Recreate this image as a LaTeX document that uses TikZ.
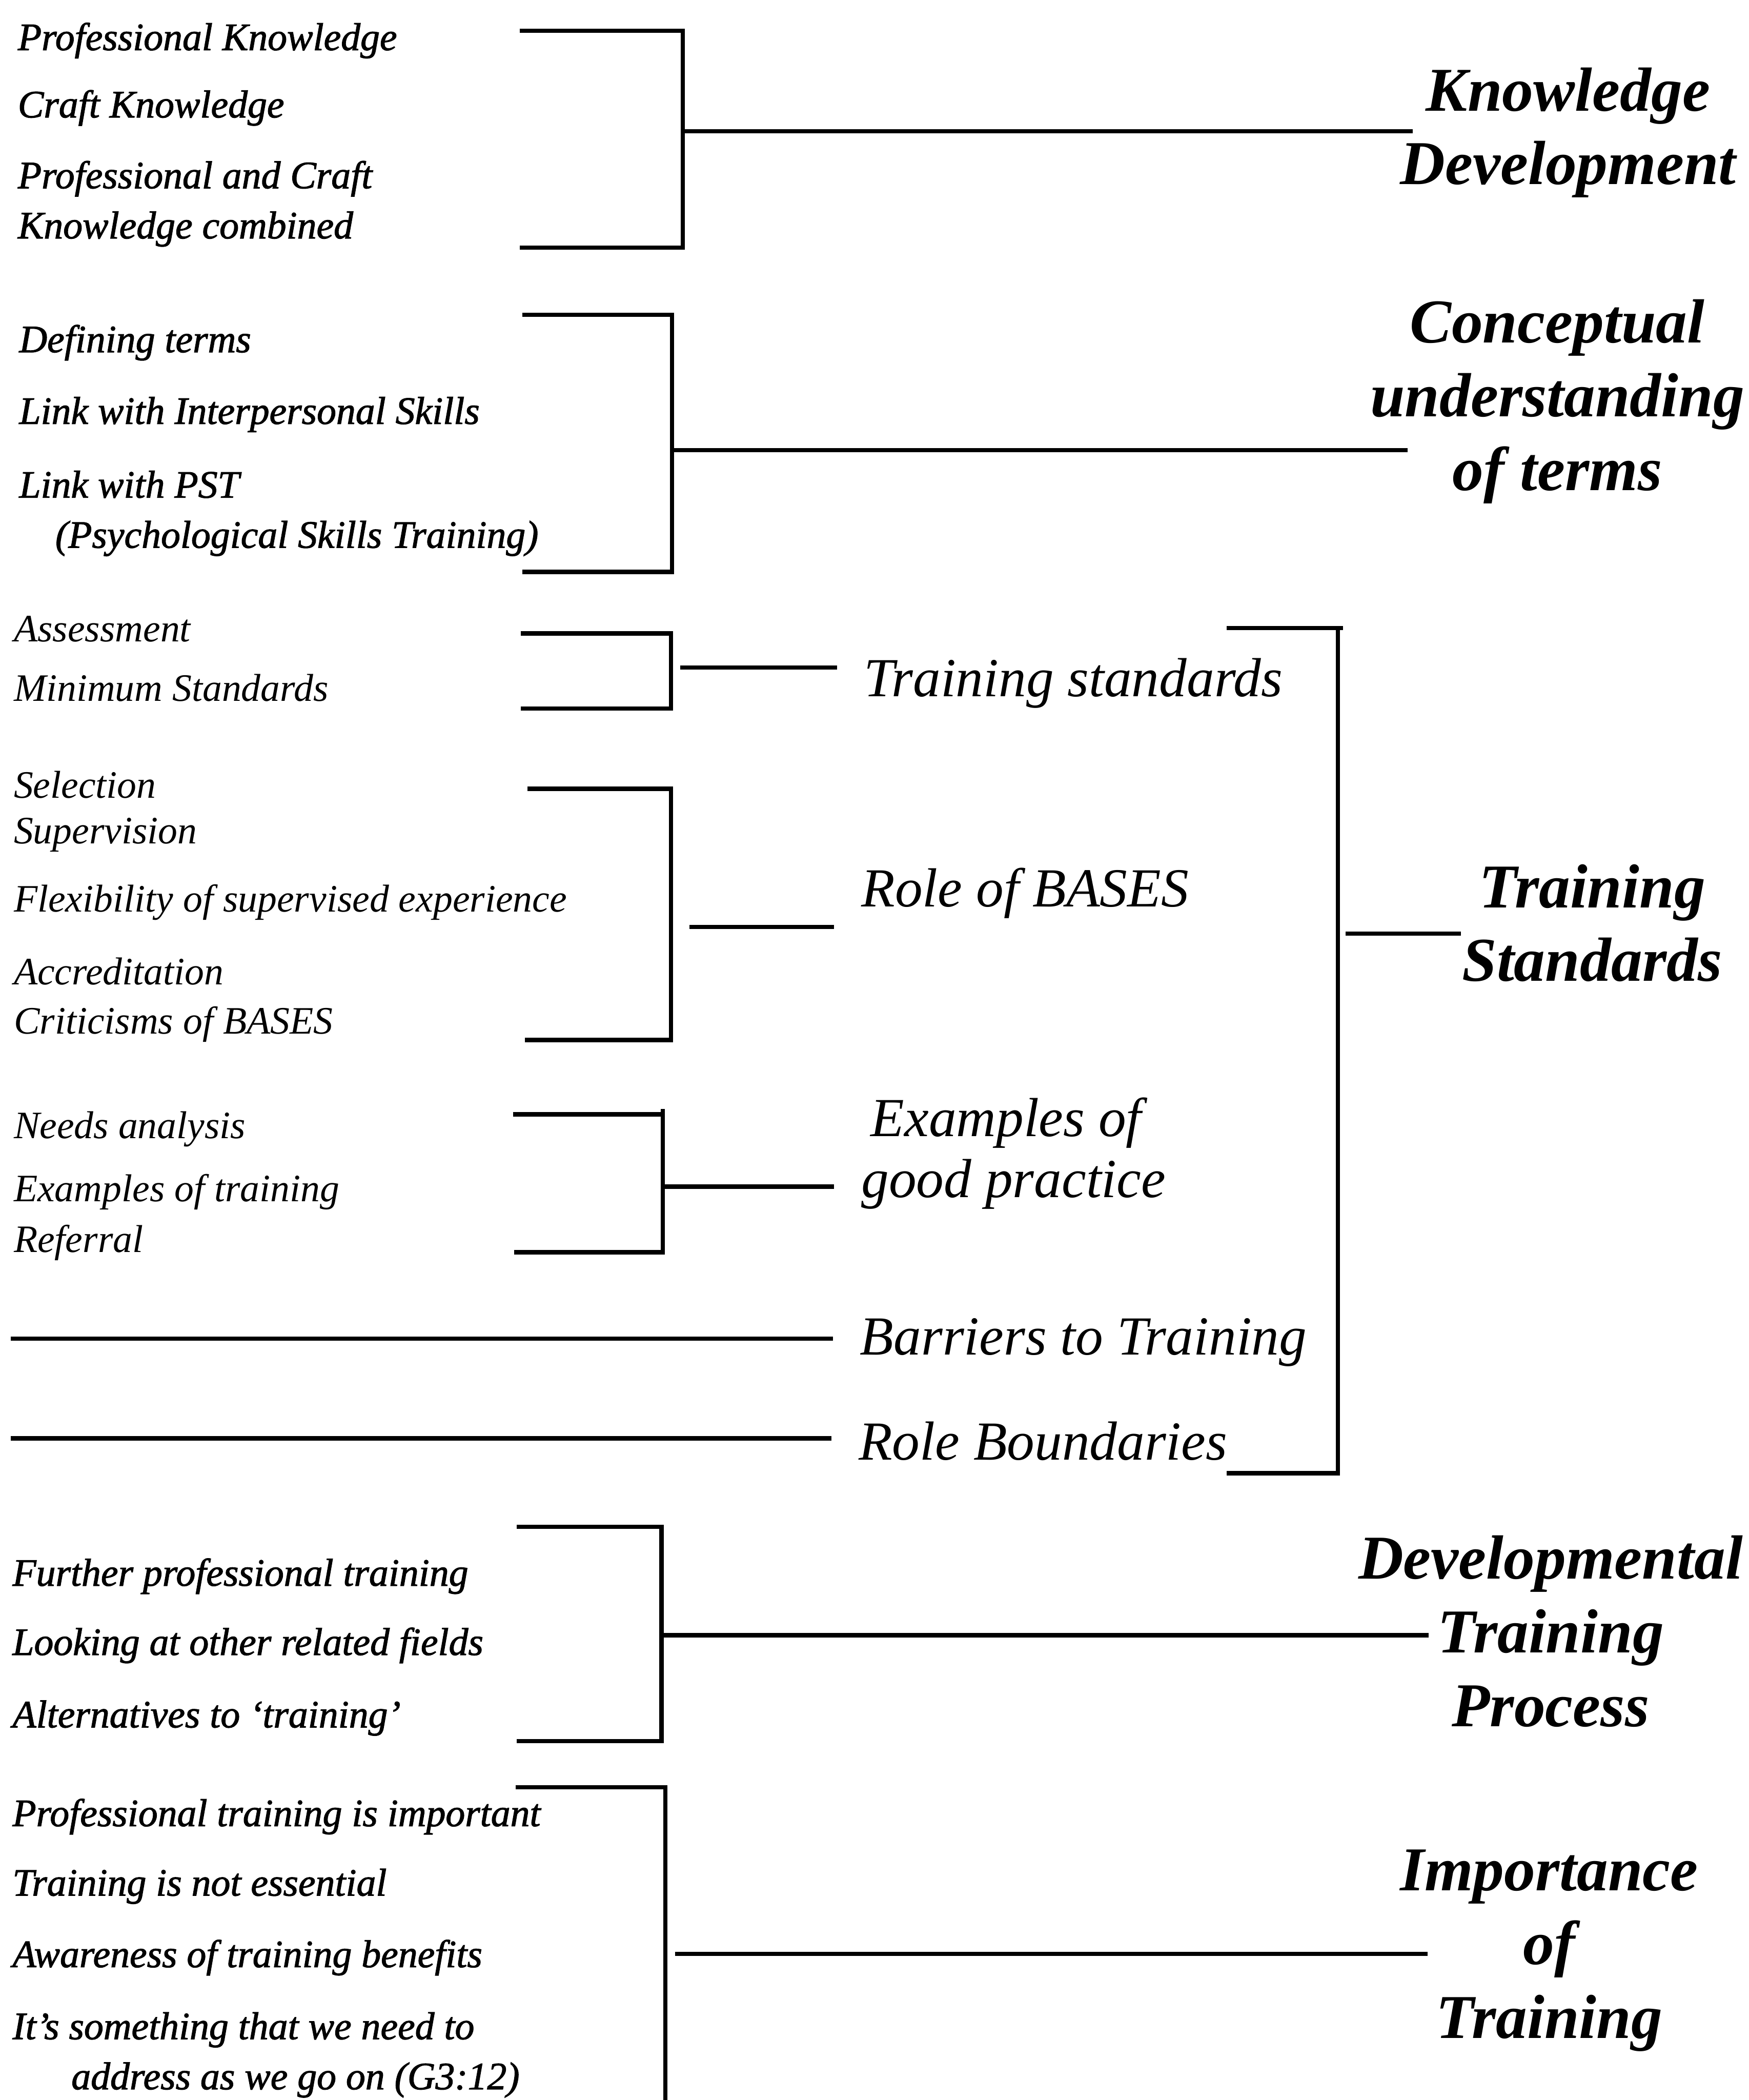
\documentclass[tikz,border=0pt]{standalone}
\usepackage{fontspec}
\setmainfont{Liberation Serif}
\newfontfamily\heavyfam[Ligatures=TeX, ItalicFeatures={FakeBold=1.5}]{Liberation Serif}
\newcommand\itemfnt{\heavyfam\fontsize{16.5}{21.3}\selectfont\itshape}
\newcommand\itemlfnt{\fontsize{16.5}{21.3}\selectfont\itshape}
\newcommand\subfnt{\fontsize{23.4}{25.9}\selectfont\itshape}
\newcommand\headfnt{\fontsize{26.5}{31.3}\selectfont\bfseries\itshape}
\tikzset{
  item/.style={anchor=base west, inner sep=0pt, align=left, font=\itemfnt},
  iteml/.style={item, font=\itemlfnt},
  sub/.style={anchor=base west, inner sep=0pt, inner xsep=0.4cm, align=left, font=\subfnt},
  head/.style={anchor=base, inner sep=0pt, align=center, font=\headfnt},
  brk/.style={line width=1.8pt},
  link/.style={line width=1.8pt}
}
\begin{document}
\begin{tikzpicture}[x=0.02cm, y=-0.02cm]
  \useasboundingbox (0,0) rectangle (1306,1568);

  % knowledge development
  \node[item] (kd1) at (13,37.4) {Professional Knowledge};
  \node[item] (kd2) at (13,87.7) {Craft Knowledge};
  \node[item] (kd3) at (13,178) {Professional and Craft\\Knowledge combined};
  \draw[brk] (388,23) -- (510,23) -- (510,185) -- (388,185);
  \coordinate (kdj) at (510,98);
  \coordinate (kde) at (1055,98);
  \node[head] (kdev) at (1171,137.7) {Knowledge\\Development};
  \draw[link] (kdj) -- (kde);

  % conceptual understanding
  \node[item] (ct1) at (14,263) {Defining terms};
  \node[item] (ct2) at (14,316.5) {Link with Interpersonal Skills};
  \node[item] (ct3) at (14,409) {Link with PST\\\hspace*{0.54cm}(Psychological Skills Training)};
  \draw[brk] (390,235) -- (502,235) -- (502,427) -- (390,427);
  \coordinate (ctj) at (502,336);
  \coordinate (cte) at (1051,336);
  \node[head] (ctrm) at (1163,366) {Conceptual\\understanding\\of terms};
  \draw[link] (ctj) -- (cte);

  % training standards
  \node[iteml] (ts1) at (10,479) {Assessment};
  \node[iteml] (ts2) at (10,523.6) {Minimum Standards};
  \draw[brk] (389,473) -- (501,473) -- (501,529) -- (389,529);
  \coordinate (tsj) at (508,498.5);
  \node[sub] (trst) at (625,520) {Training standards};
  \draw[link] (tsj) -- (tsj -| trst.west);

  \node[iteml] (rb1) at (10,596) {Selection};
  \node[iteml] (rb2) at (10,630) {Supervision};
  \node[iteml] (rb3) at (10,681) {Flexibility of supervised experience};
  \node[iteml] (rb4) at (10,735) {Accreditation};
  \node[iteml] (rb5) at (10,772) {Criticisms of BASES};
  \draw[brk] (394,589) -- (501,589) -- (501,776.5) -- (392,776.5);
  \coordinate (rbj) at (515,692);
  \node[sub] (rbas) at (623,677) {Role of BASES};
  \draw[link] (rbj) -- (rbj -| rbas.west);

  \node[iteml] (eg1) at (10,850) {Needs analysis};
  \node[iteml] (eg2) at (10,897) {Examples of training};
  \node[iteml] (eg3) at (10,935) {Referral};
  \draw[brk] (383,832) -- (495,832);
  \draw[brk] (495,828) -- (495,935) -- (384,935);
  \coordinate (egj) at (495,886);
  \node[sub] (egp) at (623,894) {\hspace*{0.14cm}Examples of\\good practice};
  \draw[link] (egj) -- (egj -| egp.west);

  \coordinate (btl) at (8,999.5);
  \node[sub] (btt) at (622,1011.6) {Barriers to Training};
  \draw[link] (btl) -- (btl -| btt.west);

  \coordinate (rbl) at (8,1074);
  \node[sub] (rbnd) at (621,1090) {Role Boundaries};
  \draw[link] (rbl) -- (rbl -| rbnd.west);

  \draw[brk] (916,469) -- (1003,469);
  \draw[brk] (999,469) -- (999,1100) -- (916,1100);
  \coordinate (bsj) at (1005,697);
  \coordinate (bse) at (1091,697);
  \node[head] (tstd) at (1189,732.6) {Training\\Standards};
  \draw[link] (bsj) -- (bse);

  % developmental training process
  \node[item] (dt1) at (9,1184) {Further professional training};
  \node[item] (dt2) at (9,1235.7) {Looking at other related fields};
  \node[item] (dt3) at (9,1289.8) {Alternatives to `training'};
  \draw[brk] (386,1140) -- (494,1140) -- (494,1300) -- (386,1300);
  \coordinate (dtj) at (494,1221);
  \coordinate (dte) at (1067,1221);
  \node[head] (dtp) at (1158,1289) {Developmental\\Training\\Process};
  \draw[link] (dtj) -- (dte);

  % importance of training
  \node[item] (it1) at (9,1363.5) {Professional training is important};
  \node[item] (it2) at (9,1415.4) {Training is not essential};
  \node[item] (it3) at (9,1468.8) {Awareness of training benefits};
  \node[item] (it4) at (9,1560) {It's something that we need to\\\hspace*{0.88cm}address as we go on (G3:12)};
  \draw[brk] (385,1334.5) -- (497,1334.5) -- (497,1568);
  \coordinate (itj) at (504,1459);
  \coordinate (ite) at (1066,1459);
  \node[head] (impt) at (1157,1521.7) {Importance\\of\\Training};
  \draw[link] (itj) -- (ite);
\end{tikzpicture}
\end{document}
